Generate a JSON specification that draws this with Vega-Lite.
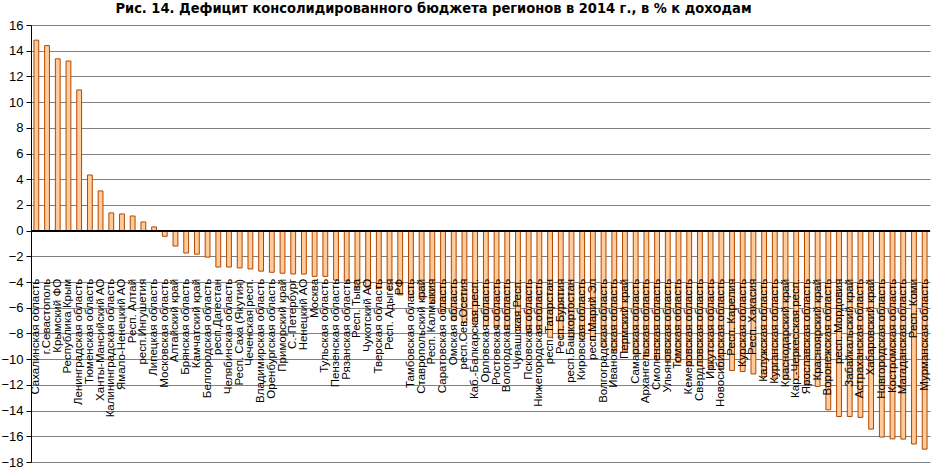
{
  "$schema": "https://vega.github.io/schema/vega-lite/v6.json",
  "width": 899,
  "height": 437,
  "autosize": {"type": "none"},
  "padding": {"left": 31, "top": 25, "right": 5, "bottom": 9},
  "background": "white",
  "title": {"text": "Рис. 14. Дефицит консолидированного бюджета регионов в 2014 г., в % к доходам", "font": "DejaVu Sans Condensed, sans-serif", "fontSize": 14.5, "fontWeight": "bold", "anchor": "middle", "dx": -47, "offset": 3, "color": "black"},
  "config": {"view": {"stroke": null}},
  "data": {"values": [
    {"name": "Сахалинская область", "value": 14.82},
    {"name": "г.Севастополь", "value": 14.4},
    {"name": "Крымский ФО", "value": 13.37},
    {"name": "Республика Крым", "value": 13.2},
    {"name": "Ленинградская область", "value": 10.95},
    {"name": "Тюменская область", "value": 4.33},
    {"name": "Ханты-Мансийский АО", "value": 3.09},
    {"name": "Калининградская область", "value": 1.38},
    {"name": "Ямало-Ненецкий АО", "value": 1.3},
    {"name": "Респ. Алтай", "value": 1.14},
    {"name": "респ.Ингушетия", "value": 0.68},
    {"name": "Липецкая область", "value": 0.29},
    {"name": "Московская область", "value": -0.44},
    {"name": "Алтайский край", "value": -1.2},
    {"name": "Брянская область", "value": -1.74},
    {"name": "Камчатский край", "value": -1.83},
    {"name": "Белгородская область", "value": -2.06},
    {"name": "респ.Дагестан", "value": -2.83},
    {"name": "Челябинская область", "value": -2.83},
    {"name": "Респ. Саха (Якутия)", "value": -2.9},
    {"name": "Чеченская респ.", "value": -2.98},
    {"name": "Владимирская область", "value": -3.15},
    {"name": "Оренбургская область", "value": -3.24},
    {"name": "Приморский край", "value": -3.31},
    {"name": "С.-Петербург", "value": -3.37},
    {"name": "Ненецкий АО", "value": -3.38},
    {"name": "Москва", "value": -3.56},
    {"name": "Тульская область", "value": -3.56},
    {"name": "Пензенская область", "value": -3.85},
    {"name": "Рязанская область", "value": -3.92},
    {"name": "Респ. Тыва", "value": -4.44},
    {"name": "Чукотский АО", "value": -4.46},
    {"name": "Тверская область", "value": -4.5},
    {"name": "Респ. Адыгея", "value": -4.55},
    {"name": "РФ", "value": -5.0},
    {"name": "Тамбовская область", "value": -5.2},
    {"name": "Ставропольский край", "value": -5.3},
    {"name": "Респ. Калмыкия", "value": -5.6},
    {"name": "Саратовская область", "value": -6.3},
    {"name": "Омская область", "value": -7.0},
    {"name": "респ.Сев.Осетия", "value": -7.15},
    {"name": "Каб.-Балкарская респ.", "value": -7.25},
    {"name": "Орловская область", "value": -7.4},
    {"name": "Ростовская область", "value": -7.55},
    {"name": "Вологодская область", "value": -7.7},
    {"name": "Чувашская Респ.", "value": -7.75},
    {"name": "Псковская область", "value": -7.85},
    {"name": "Нижегородская область", "value": -7.9},
    {"name": "респ. Татарстан", "value": -8.3},
    {"name": "Респ. Бурятия", "value": -8.32},
    {"name": "респ.Башкортостан", "value": -8.35},
    {"name": "Кировская область", "value": -8.45},
    {"name": "респ.Марий Эл", "value": -8.5},
    {"name": "Волгоградская область", "value": -9.05},
    {"name": "Ивановская область", "value": -9.35},
    {"name": "Пермский край", "value": -9.45},
    {"name": "Самарская область", "value": -9.6},
    {"name": "Архангельская область", "value": -9.8},
    {"name": "Смоленская область", "value": -10.05},
    {"name": "Ульяновская область", "value": -10.15},
    {"name": "Томская область", "value": -10.26},
    {"name": "Кемеровская область", "value": -10.39},
    {"name": "Свердловская область", "value": -10.52},
    {"name": "Иркутская область", "value": -10.68},
    {"name": "Новосибирская область", "value": -10.8},
    {"name": "Респ. Карелия", "value": -10.88},
    {"name": "Курская область", "value": -10.96},
    {"name": "Респ. Хакасия", "value": -11.15},
    {"name": "Калужская область", "value": -11.35},
    {"name": "Курганская область", "value": -11.48},
    {"name": "Краснодарский край", "value": -11.53},
    {"name": "Кар.-Черкесская респ.", "value": -11.55},
    {"name": "Ярославская область", "value": -11.87},
    {"name": "Красноярский край", "value": -12.12},
    {"name": "Воронежская область", "value": -13.94},
    {"name": "респ. Мордовия", "value": -14.46},
    {"name": "Забайкальский край", "value": -14.46},
    {"name": "Астраханская область", "value": -14.53},
    {"name": "Хабаровский край", "value": -15.44},
    {"name": "Новгородская область", "value": -16.06},
    {"name": "Костромская область", "value": -16.2},
    {"name": "Магаданская область", "value": -16.22},
    {"name": "Респ. Коми", "value": -16.6},
    {"name": "Мурманская область", "value": -17.0}
  ]},
  "layer": [
    {
      "mark": {"type": "bar", "fill": "#FFCC99", "stroke": "#B34700", "strokeWidth": 1},
      "encoding": {
        "x": {"field": "name", "type": "nominal", "sort": null, "scale": {"paddingInner": 0.55, "paddingOuter": 0.275}, "axis": null},
        "y": {"field": "value", "type": "quantitative", "scale": {"domain": [-18, 16], "nice": false, "zero": false},
          "axis": {"values": [-18, -16, -14, -12, -10, -8, -6, -4, -2, 0, 2, 4, 6, 8, 10, 12, 14, 16], "tickCount": 40, "labelOverlap": false, "grid": true, "gridColor": "#808080", "gridOpacity": 1, "domainColor": "black", "tickColor": "black", "tickSize": 5, "labelFont": "Liberation Sans", "labelFontSize": 13, "labelColor": "black", "labelPadding": 3, "title": null}}
      }
    },
    {
      "mark": {"type": "rule", "color": "black", "strokeWidth": 1},
      "encoding": {"y": {"datum": 0}}
    },
    {
      "mark": {"type": "text", "angle": 270, "align": "right", "baseline": "middle", "font": "Liberation Sans", "fontSize": 11.5, "color": "black"},
      "encoding": {
        "x": {"field": "name", "type": "nominal", "sort": null},
        "y": {"datum": -3.75},
        "text": {"field": "name"}
      }
    }
  ]
}
